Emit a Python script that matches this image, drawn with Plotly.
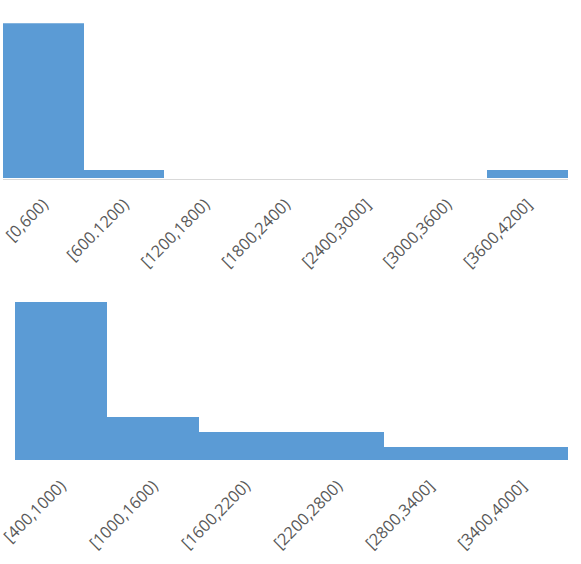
import plotly.graph_objects as go

top_bins = ["[0,600)", "[600.1200)", "[1200,1800)", "[1800,2400)", "[2400,3000]", "[3000,3600)", "[3600,4200]"]
top_values = [19, 1, 0, 0, 0, 0, 1]

bottom_bins = ["[400,1000)", "[1000,1600)", "[1600,2200)", "[2200,2800)", "[2800,3400]", "[3400,4000]"]
bottom_values = [12, 3.3, 2.1, 2.1, 1, 1]

W, H = 581, 564
bar_color = "#5b9bd5"
label_color = "#595959"
font_family = "Open Sans, Noto Sans, DejaVu Sans, sans-serif"

fig = go.Figure()
fig.add_trace(go.Bar(x=top_bins, y=top_values, xaxis="x", yaxis="y",
                     marker=dict(color=bar_color, line=dict(width=0)),
                     showlegend=False, hoverinfo="x+y"))
fig.add_trace(go.Bar(x=bottom_bins, y=bottom_values, xaxis="x2", yaxis="y2",
                     marker=dict(color=bar_color, line=dict(width=0)),
                     showlegend=False, hoverinfo="x+y"))

def py(px):
    return 1 - px / H

xcommon = dict(type="category", tickangle=-45, showgrid=False, zeroline=False,
               ticks="outside", ticklen=9, tickcolor="rgba(0,0,0,0)",
               tickfont=dict(family=font_family, size=16.3, color=label_color),
               automargin=False, fixedrange=True)
ycommon = dict(showgrid=False, zeroline=False, showticklabels=False, showline=False,
               automargin=False, fixedrange=True)

fig.update_layout(
    width=W, height=H,
    margin=dict(l=0, r=0, t=0, b=0),
    paper_bgcolor="white", plot_bgcolor="white",
    bargap=0,
    xaxis=dict(domain=[3 / W, 568 / W], anchor="y", showline=True,
               linecolor="#d9d9d9", linewidth=1, **xcommon),
    yaxis=dict(domain=[py(178.5), py(23.3)], range=[0, top_values[0]], anchor="x", **ycommon),
    xaxis2=dict(domain=[15 / W, 568 / W], anchor="y2", showline=False, **xcommon),
    yaxis2=dict(domain=[py(460), py(302)], range=[0, bottom_values[0]], anchor="x2", **ycommon),
)

fig.write_html("out.html", config={"displayModeBar": False},
               post_script="document.body.style.margin='0';document.body.style.overflow='hidden';")
